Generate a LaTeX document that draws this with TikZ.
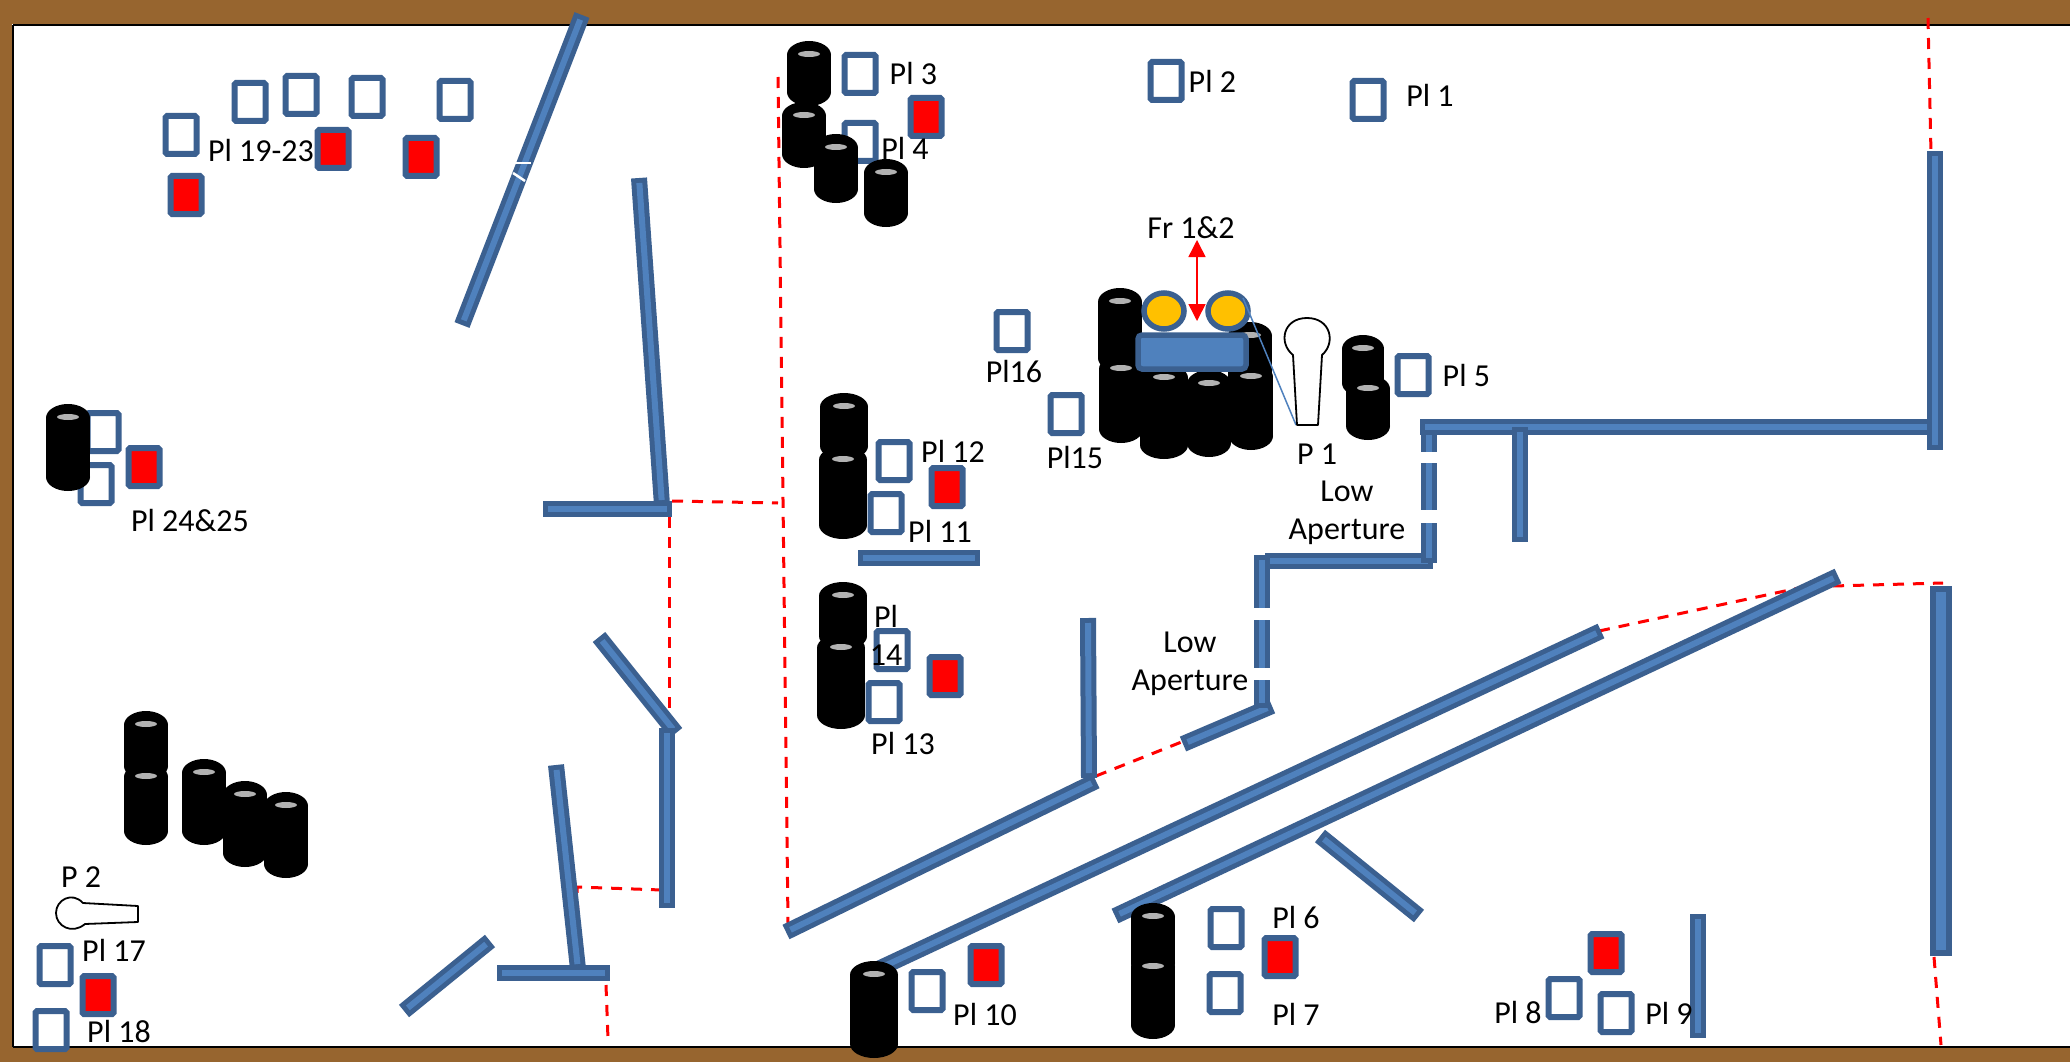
\documentclass[tikz,border=0pt]{standalone}
\usepackage{fontspec}
\setmainfont{Carlito}
\usetikzlibrary{arrows.meta,positioning,shapes.geometric}
\definecolor{woodbrown}{HTML}{97652F}
\definecolor{walldark}{HTML}{3B6090}
\definecolor{walllight}{HTML}{4F81BD}
\definecolor{fryellow}{HTML}{FFC000}
\begin{document}
\begin{tikzpicture}[
  x=1pt,y=-1pt,
  node distance=11pt,
  wall/.style={draw=walldark,double=walllight,double distance=6pt,line width=5pt,
    line cap=rect,line join=round,shorten >=8pt,shorten <=8pt},
  thickwall/.style={wall,double distance=10pt,line width=6pt,shorten >=11pt,shorten <=11pt},
  gap/.style={fill=white,minimum width=22pt,inner sep=0pt},
  zone/.style={draw=red,line width=3pt,dash pattern=on 11pt off 9pt},
  pallet/.style={draw=walldark,line width=6pt,rounded corners=1.5pt,fill=white,
    minimum width=31pt,minimum height=38pt,inner sep=0pt},
  loaded/.style={pallet,fill=red},
  forklift/.style={draw=walldark,line width=5.5pt,fill=fryellow,ellipse,
    minimum width=40pt,minimum height=36pt,inner sep=0pt},
  operator/.style={draw=black,line width=1.8pt,fill=white,line join=round},
  tag/.style={inner sep=0pt,align=center,font=\fontsize{32}{38}\selectfont}
]
  \useasboundingbox (0,0) rectangle (2070,1062);
  \fill[white] (0,0) rectangle (2070,1062);

  % building frame
  \fill[woodbrown] (0,0) rectangle (2070,24);
  \fill[woodbrown] (0,1047) rectangle (2070,1062);
  \fill[woodbrown] (0,0) rectangle (12,1062);
  \draw[black,line width=2pt] (13,25) -- (2070,25);
  \draw[black,line width=2pt] (13,1047) -- (2070,1047);
  \draw[black,line width=2pt] (13,25) -- (13,1047);

  % zone limits
  \draw[zone] (1928,18) -- (1931,154);
  \draw[zone] (778,77) -- (788,923);
  \draw[zone] (672,501) -- (778,503);
  \draw[zone] (669,517) -- (669,713);
  \draw[zone] (662,890) -- (577,887) -- (579,961);
  \draw[zone] (606,985) -- (608,1039);
  \draw[zone] (1096,776) -- (1184,741);
  \draw[zone] (1599,631) -- (1836,580);
  \draw[zone] (1833,586) -- (1943,583);
  \draw[zone] (1934,957) -- (1941,1045);

  % walls
  \draw[wall] (582,15) -- (462,325);
  \draw[wall] (639,178) -- (662,505);
  \draw[wall] (543,509) -- (672,509);
  \draw[wall] (599,637) -- (676,733);
  \draw[wall] (667,728) -- (667,908);
  \draw[wall] (556,765) -- (578,969);
  \draw[wall] (497,973) -- (610,973);
  \draw[wall] (404,1011) -- (490,941);
  \draw[wall] (858,558) -- (980,558);
  \draw[wall] (1088,618) -- (1089,778);
  \draw[wall] (786,932) -- (1096,781);
  \draw[wall] (1183,744) -- (1272,706);
  \draw[wall] (1262,555) -- (1262,708);
  \draw[wall] (1265,561) -- (1433,561);
  \draw[wall] (1429,427) -- (1429,563);
  \draw[wall] (1420,427) -- (1932,427);
  \draw[wall] (1520,427) -- (1520,542);
  \draw[wall] (1935,151) -- (1935,450);
  \draw[wall] (1838,576) -- (1115,916);
  \draw[wall] (1601,631) -- (876,970);
  \draw[wall] (1320,836) -- (1419,916);
  \draw[wall] (1698,914) -- (1698,1038);
  \draw[thickwall] (1941,586) -- (1941,956);

  % low apertures and the mark on the long wall
  \node[gap,minimum height=11pt] (gapa) at (1429,457) {};
  \node[gap,minimum height=13pt] (gapb) at (1429,516) {};
  \node[gap,minimum height=12pt] (gapc) at (1262,614) {};
  \node[gap,minimum height=12pt] (gapd) at (1262,674) {};
  \draw[white,line width=2.5pt] (513,163) -- (531,163);
  \draw[white,line width=2.5pt] (513,173) -- (525,181);

  % pallets
  \node[pallet] (pla) at (181,135) {};
  \node[pallet] (plb) at (250,102) {};
  \node[pallet] (plc) at (301,95) {};
  \node[pallet] (pld) at (367,97) {};
  \node[pallet] (ple) at (455,100) {};
  \node[loaded] (plf) at (333,149) {};
  \node[loaded] (plg) at (421,157) {};
  \node[loaded] (plh) at (186,195) {};
  \node[pallet] (pl3) at (860,74) {};
  \node[pallet] (pl4) at (860,142) {};
  \node[loaded] (pl4r) at (926,117) {};
  \node[pallet] (pl2) at (1166,81) {};
  \node[pallet] (pl1) at (1368,100) {};
  \node[pallet] (pl16) at (1012,331) {};
  \node[pallet] (pl15) at (1066,414) {};
  \node[pallet] (pl5) at (1413,375) {};
  \node[pallet] (pl12) at (894,461) {};
  \node[loaded] (pl12r) at (947,487) {};
  \node[pallet] (pl11) at (886,513) {};
  \node[pallet] (pl14) at (892,650) {};
  \node[loaded] (pl14r) at (945,676) {};
  \node[pallet] (pl13) at (884,702) {};
  \node[pallet] (pl24) at (103,432) {};
  \node[pallet] (pl25) at (96,484) {};
  \node[loaded] (pl25r) at (144,467) {};
  \node[pallet] (pl17) at (55,965) {};
  \node[loaded] (pl17r) at (98,995) {};
  \node[pallet] (pl18) at (51,1030) {};
  \node[pallet] (pl10) at (927,991) {};
  \node[loaded] (pl10r) at (986,965) {};
  \node[pallet] (pl6) at (1226,928) {};
  \node[loaded] (pl6r) at (1280,957) {};
  \node[pallet] (pl7) at (1225,993) {};
  \node[pallet] (pl8) at (1564,998) {};
  \node[pallet] (pl9) at (1616,1013) {};
  \node[loaded] (pl8r) at (1606,953) {};

  % barrel stacks: centre x / top / bottom / half width
  \foreach \bx/\btop/\bbot/\brad in {809/41/106/22,804/102/168/22,836/134/203/22,886/159/227/22,
    1120/288/372/22,1121/355/443/22,1164/364/459/24,1209/370/457/22,1250/322/402/22,1251/363/450/22,
    1363/335/397/21,1368/375/440/22,
    68/404/491/22,
    844/393/460/24,843/446/539/24,
    843/582/650/24,841/634/729/24,
    146/711/780/22,146/763/845/22,204/759/845/22,245/781/867/22,286/792/878/22,
    874/961/1058/24,
    1153/903/977/22,1153/953/1039/22}{
    \fill[black] (\bx,\btop+14) ellipse [x radius=\brad pt,y radius=14pt];
    \fill[black] (\bx,\bbot-14) ellipse [x radius=\brad pt,y radius=14pt];
    \fill[black] (\bx-\brad,\btop+14) rectangle (\bx+\brad,\bbot-14);
    \fill[black!30] (\bx,\btop+13) ellipse [x radius=11pt,y radius=3pt];
  }

  % forklifts
  \node[forklift] (fr1) at (1164,311) {};
  \node[forklift] (fr2) at (1228,311) {};
  \node[draw=walldark,line width=5.5pt,fill=walllight,rounded corners=4pt,inner sep=0pt,
    minimum width=108pt,minimum height=34pt] (frbody) at (1192,352) {};
  \draw[red,line width=1.5pt,{Triangle[length=17pt,width=17pt]}-{Triangle[length=17pt,width=17pt]}] (1197,240) -- (1197,321);

  % operators
  \draw[walllight,line width=1.5pt] (1243,298) -- (1296,425);
  \draw[operator] (1297,425) -- (1293,355) .. controls (1278,343) and (1283,318) .. (1307,318)
    .. controls (1331,318) and (1336,343) .. (1322,355) -- (1318,425) -- cycle;
  \draw[operator] (138,906) -- (83,903) .. controls (72,891) and (56,900) .. (56,913)
    .. controls (56,926) and (72,935) .. (85,924) -- (138,922) -- cycle;

  % labels
  \node[tag,right=of pl3] (tpl3) {Pl 3};
  \node[tag] (tpl4) at (905,148) {Pl 4};
  \node[tag,right=4pt of pl2] (tpl2) {Pl 2};
  \node[tag] (tpl1) at (1430,95) {Pl 1};
  \node[tag] (tpl19) at (261,150) {Pl 19-23};
  \node[tag] (tfr) at (1191,228) {Fr 1\&2};
  \node[tag] (tpl16) at (1014,372) {Pl16};
  \node[tag] (tpl15) at (1075,457) {Pl15};
  \node[tag] (tp1) at (1317,454) {P 1};
  \node[tag,right=of pl5] (tpl5) {Pl 5};
  \node[tag] (tlowa) at (1347,513) {Low\\Aperture};
  \node[tag] (tlowb) at (1190,664) {Low\\Aperture};
  \node[tag] (tpl12) at (953,451) {Pl 12};
  \node[tag] (tpl11) at (940,531) {Pl 11};
  \node[tag] (tpl14) at (886,635) {Pl\\14};
  \node[tag] (tpl13) at (903,743) {Pl 13};
  \node[tag] (tpl24) at (190,521) {Pl 24\&25};
  \node[tag] (tp2) at (81,877) {P 2};
  \node[tag] (tpl17) at (114,950) {Pl 17};
  \node[tag] (tpl18) at (119,1031) {Pl 18};
  \node[tag] (tpl10) at (985,1014) {Pl 10};
  \node[tag] (tpl6) at (1296,917) {Pl 6};
  \node[tag] (tpl7) at (1296,1014) {Pl 7};
  \node[tag] (tpl8) at (1518,1012) {Pl 8};
  \node[tag] (tpl9) at (1669,1013) {Pl 9};
\end{tikzpicture}
\end{document}
